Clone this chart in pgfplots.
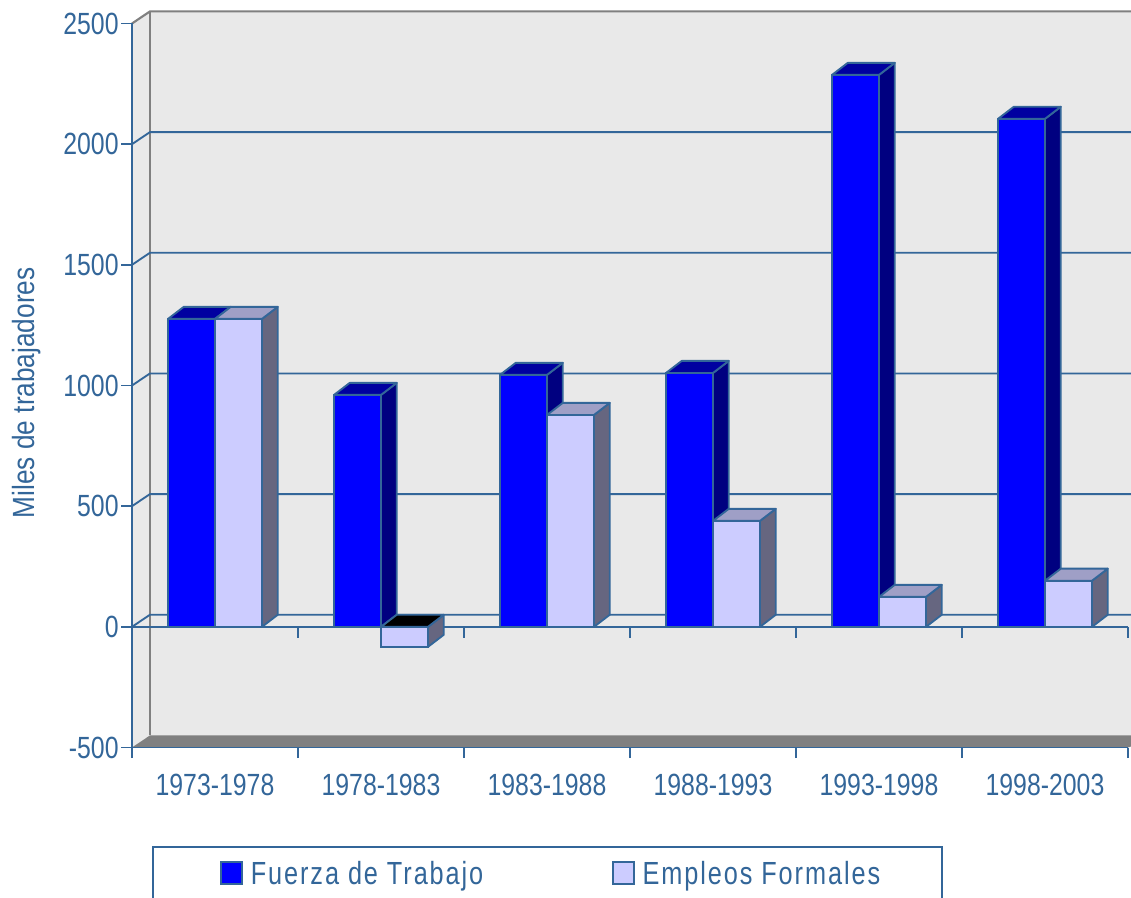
\documentclass[border=0pt]{standalone}
\usepackage{fontspec}
\usepackage{pgfplots}
\pgfplotsset{compat=1.18}
\setmainfont[FakeStretch=0.81]{Liberation Sans}
\newfontfamily\ylabfont[FakeStretch=0.855]{Liberation Sans}
\newfontfamily\legfont[FakeStretch=0.79,LetterSpace=6]{Liberation Sans}
\definecolor{steel}{HTML}{336699}
\definecolor{wall}{HTML}{E9E9E9}
\definecolor{fuerza}{HTML}{0000FF}
\definecolor{fuerzatop}{HTML}{0000A0}
\definecolor{fuerzaside}{HTML}{000080}
\definecolor{empleo}{HTML}{CCCCFF}
\definecolor{empleotop}{HTML}{9F9FC6}
\definecolor{empleoside}{HTML}{666680}
% one face of a bar: fill colour, then corners
\newcommand{\face}[2]{\addplot[draw=steel, line width=1.4pt, line join=round, fill=#1, forget plot] coordinates {#2} -- cycle;}
% gridline running over the left wall and the back wall
\newcommand{\level}[2]{\addplot[steel, line width=1.4pt, forget plot] coordinates {(0,#1)(0.108,#2)(6.2,#2)};}
% legend marker, with room left of it and below it
\newcommand{\legmark}[1]{\path (0pt,-22pt) -- (25.75pt,-22pt); \draw[draw=steel, line width=1.4pt, fill=#1] (6pt,-7.5pt) rectangle (22pt,9pt);}
\begin{document}
\begin{tikzpicture}
% 1 px = 0.75pt, axis box starts at pixel (132,747)
\path[use as bounding box] (-99pt,-112.125pt) rectangle (749.25pt,560.625pt);
\begin{axis}[
  scale only axis,
  width=747pt, height=543pt,
  xmin=0, xmax=6, ymin=-500, ymax=2500,
  clip=false,
  axis on top,
  axis x line*=bottom, axis y line*=left,
  axis line style={steel, line width=1.4pt},
  tick align=outside,
  major tick length=8pt,
  tick style={steel, line width=1.4pt},
  xtick={0,1,2,3,4,5,6},
  x tick label as interval,
  xticklabels={1973-1978,1978-1983,1983-1988,1988-1993,1993-1998,1998-2003},
  ytick={-500,0,500,1000,1500,2000,2500},
  /pgf/number format/assume math mode=true,
  /pgf/number format/1000 sep={},
  tick label style={font=\fontsize{23}{27}\selectfont, text=steel},
  xticklabel style={yshift=-8.5pt},
  yticklabel style={xshift=1.5pt},
  ylabel={Miles de trabajadores},
  every axis y label/.style={at={(axis description cs:-0.106,0.49)}, rotate=90, anchor=center, font=\ylabfont\fontsize{23}{27}\selectfont, text=steel},
  legend columns=2,
  legend cell align=left,
  legend style={
    at={(axis description cs:0.0201,-0.1366)}, anchor=north west,
    draw=steel, line width=1.4pt, fill=white,
    inner xsep=44.25pt, inner ysep=8.5pt,
    font=\legfont\fontsize{24}{28}\selectfont, text=steel,
    /tikz/every even column/.style={column sep=88.3pt},
  },
]
% walls and floor
\addplot[fill=wall, draw=none, forget plot] coordinates {(0,-500)(0,2500)(0.108,2550)(6.2,2550)(6.2,-450)(6,-500)} -- cycle;
\addplot[fill=gray, draw=none, forget plot] coordinates {(0,-500)(0.108,-450)(6.2,-450)(6,-500)} -- cycle;
\addplot[gray, line width=1.6pt, forget plot] coordinates {(0,2500)(0.108,2550)(6.2,2550)};
\addplot[gray, line width=1.6pt, forget plot] coordinates {(0.108,2550)(0.108,-450)};
\level{0}{50}
\level{500}{550}
\level{1000}{1050}
\level{1500}{1550}
\level{2000}{2050}
% zero line with its ticks
\addplot[steel, line width=1.4pt, forget plot] coordinates {(0,0)(6,0)};
\addplot[ycomb, steel, line width=1.4pt, forget plot] coordinates {(0,-45)(1,-45)(2,-45)(3,-45)(4,-45)(5,-45)(6,-45)};
% Fuerza de Trabajo, sides and tops
\face{fuerzaside}{(0.500,0)(0.595,50)(0.595,1326)(0.500,1276)}
\face{fuerzatop}{(0.217,1276)(0.312,1326)(0.595,1326)(0.500,1276)}
\face{fuerzaside}{(1.500,0)(1.595,50)(1.595,1011)(1.500,961)}
\face{fuerzatop}{(1.217,961)(1.312,1011)(1.595,1011)(1.500,961)}
\face{fuerzaside}{(2.500,0)(2.595,50)(2.595,1094)(2.500,1044)}
\face{fuerzatop}{(2.217,1044)(2.312,1094)(2.595,1094)(2.500,1044)}
\face{fuerzaside}{(3.500,0)(3.595,50)(3.595,1102)(3.500,1052)}
\face{fuerzatop}{(3.217,1052)(3.312,1102)(3.595,1102)(3.500,1052)}
\face{fuerzaside}{(4.500,0)(4.595,50)(4.595,2337)(4.500,2287)}
\face{fuerzatop}{(4.217,2287)(4.312,2337)(4.595,2337)(4.500,2287)}
\face{fuerzaside}{(5.500,0)(5.595,50)(5.595,2155)(5.500,2105)}
\face{fuerzatop}{(5.217,2105)(5.312,2155)(5.595,2155)(5.500,2105)}
% front of the Fuerza bars
\addplot[ybar, bar width=0.283, bar shift=-0.1415, draw=steel, line width=1.4pt, fill=fuerza,
  legend image code/.code={\legmark{fuerza}}]
  coordinates {(0.5,1276)(1.5,961)(2.5,1044)(3.5,1052)(4.5,2287)(5.5,2105)};
\addlegendentry{Fuerza de Trabajo}
% Empleos Formales, sides and tops
\face{empleoside}{(0.783,0)(0.878,50)(0.878,1326)(0.783,1276)}
\face{empleotop}{(0.500,1276)(0.595,1326)(0.878,1326)(0.783,1276)}
\face{empleoside}{(1.783,-83)(1.878,-33)(1.878,50)(1.783,0)}
\face{black}{(1.500,0)(1.595,50)(1.878,50)(1.783,0)}
\face{empleoside}{(2.783,0)(2.878,50)(2.878,928)(2.783,878)}
\face{empleotop}{(2.500,878)(2.595,928)(2.878,928)(2.783,878)}
\face{empleoside}{(3.783,0)(3.878,50)(3.878,489)(3.783,439)}
\face{empleotop}{(3.500,439)(3.595,489)(3.878,489)(3.783,439)}
\face{empleoside}{(4.783,0)(4.878,50)(4.878,174)(4.783,124)}
\face{empleotop}{(4.500,124)(4.595,174)(4.878,174)(4.783,124)}
\face{empleoside}{(5.783,0)(5.878,50)(5.878,241)(5.783,191)}
\face{empleotop}{(5.500,191)(5.595,241)(5.878,241)(5.783,191)}
% front of the Empleos bars
\addplot[ybar, bar width=0.283, bar shift=0.1415, draw=steel, line width=1.4pt, fill=empleo,
  legend image code/.code={\legmark{empleo}}]
  coordinates {(0.5,1276)(1.5,-83)(2.5,878)(3.5,439)(4.5,124)(5.5,191)};
\addlegendentry{Empleos Formales}
\end{axis}
\end{tikzpicture}
\end{document}
